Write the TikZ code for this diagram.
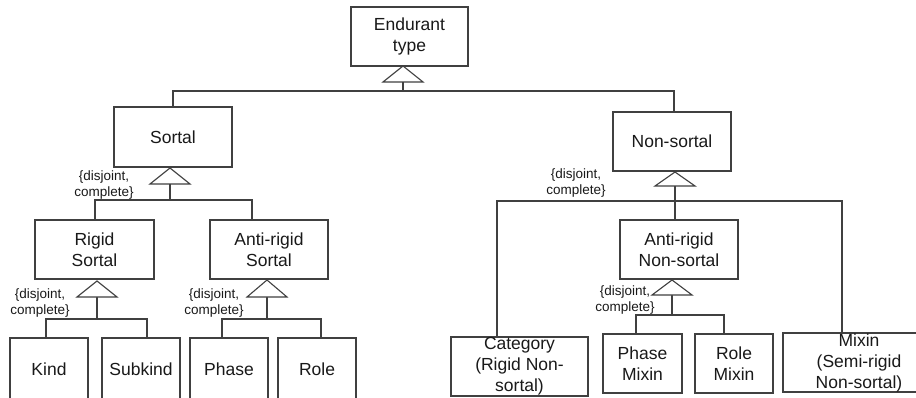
\documentclass[tikz,border=0pt]{standalone}
\usepackage{fontspec}
\setmainfont{Liberation Sans}
\usetikzlibrary{calc}
\definecolor{linegray}{RGB}{64,64,64}
\definecolor{textblack}{RGB}{25,25,25}
\tikzset{
  box/.style={draw=linegray, line width=1.1pt, fill=white, align=center,
    text=textblack, inner sep=0pt,
    font=\fontsize{17.5}{21}\selectfont},
  conn/.style={draw=linegray, line width=1.1pt},
  gentri/.style={draw=linegray, line width=1.1pt, fill=white, line join=miter},
  note/.style={align=center, text=textblack, inner sep=0pt,
    font=\fontsize{13.5}{16.5}\selectfont}
}
\begin{document}
\begin{tikzpicture}[x=1pt,y=-1pt]
\useasboundingbox (0,0) rectangle (916,398);
\fill[white] (0,0) rectangle (916,398);

% boxes, given by corner-to-corner extents
\newcommand{\boxat}[6]{\node[box, minimum width=#3-#2, minimum height=#5-#4]
  (#1) at ({(#2+#3)/2},{(#4+#5)/2}) {#6};}

\boxat{endurant}{351}{468}{7}{66}{Endurant\\type}
\boxat{sortal}{114}{232}{107}{167}{Sortal}
\boxat{nonsortal}{613}{731}{112}{171}{Non-sortal}
\boxat{rigid}{35}{154}{220}{279}{Rigid\\Sortal}
\boxat{antisortal}{210}{328}{220}{279}{Anti-rigid\\Sortal}
\boxat{antins}{620}{738}{220}{279}{Anti-rigid\\Non-sortal}
\boxat{kind}{10}{88}{338}{400}{Kind}
\boxat{subkind}{102}{180}{338}{400}{Subkind}
\boxat{phase}{190}{268}{338}{400}{Phase}
\boxat{role}{278}{356}{338}{400}{Role}
\boxat{category}{451}{588}{337}{396}{Category\\(Rigid Non-\\sortal)}
\boxat{phasemixin}{603}{682}{334}{393}{Phase\\Mixin}
\boxat{rolemixin}{695}{773}{334}{393}{Role\\Mixin}
\boxat{mixin}{783}{935}{333}{392}{Mixin\\(Semi-rigid\\Non-sortal)}

% apexes of the generalisation triangles and the bus lines below them
\coordinate (t0) at (403,66);
\coordinate (b0) at (403,91);
\coordinate (t1) at (170,168);
\coordinate (b1) at (170,200);
\coordinate (t2) at (675,172);
\coordinate (b2) at (675,201);
\coordinate (t3) at (97,281);
\coordinate (b3) at (97,319);
\coordinate (t4) at (267,280);
\coordinate (b4) at (267,319);
\coordinate (t5) at (672,280);
\coordinate (b5) at (672,315);

% Endurant type -> Sortal / Non-sortal
\draw[conn] ($(t0)+(0,16)$) -- (b0);
\draw[conn] (sortal.north) |- (b0) -| (nonsortal.north -| 674,0);
% Sortal -> Rigid / Anti-rigid Sortal
\draw[conn] ($(t1)+(0,16)$) -- (b1);
\draw[conn] (rigid.north -| 95,0) |- (b1) -| (antisortal.north -| 252,0);
% Non-sortal -> Category / Anti-rigid Non-sortal / Mixin
\draw[conn] ($(t2)+(0,14)$) -- (antins.north -| t2);
\draw[conn] (category.north -| 497,0) |- (b2) -| (mixin.north -| 842,0);
% Rigid Sortal -> Kind / Subkind
\draw[conn] ($(t3)+(0,16)$) -- (b3);
\draw[conn] (kind.north -| 46,0) |- (b3) -| (subkind.north -| 147,0);
% Anti-rigid Sortal -> Phase / Role
\draw[conn] ($(t4)+(0,17)$) -- (b4);
\draw[conn] (phase.north -| 222,0) |- (b4) -| (role.north -| 321,0);
% Anti-rigid Non-sortal -> Phase Mixin / Role Mixin
\draw[conn] ($(t5)+(0,15)$) -- (b5);
\draw[conn] (phasemixin.north -| 636,0) |- (b5) -| (rolemixin.north -| 724,0);

% generalisation triangles
\draw[gentri] (t0) -- ++(-20,16) -- ++(40,0) -- cycle;
\draw[gentri] (t1) -- ++(-20,16) -- ++(40,0) -- cycle;
\draw[gentri] (t2) -- ++(-20,14) -- ++(40,0) -- cycle;
\draw[gentri] (t3) -- ++(-20,16) -- ++(40,0) -- cycle;
\draw[gentri] (t4) -- ++(-20,17) -- ++(40,0) -- cycle;
\draw[gentri] (t5) -- ++(-20,15) -- ++(40,0) -- cycle;

% constraint notes
\node[note] (n1) at (104,185) {\{disjoint,\\complete\}};
\node[note] (n2) at (40,303) {\{disjoint,\\complete\}};
\node[note] (n3) at (214,303) {\{disjoint,\\complete\}};
\node[note] (n4) at (576,183) {\{disjoint,\\complete\}};
\node[note] (n5) at (625,300) {\{disjoint,\\complete\}};
\end{tikzpicture}
\end{document}
